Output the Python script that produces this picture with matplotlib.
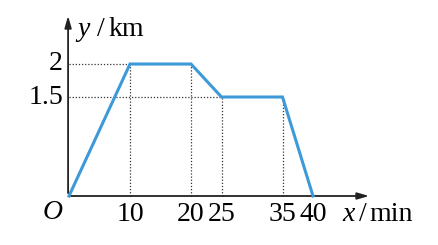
import matplotlib
matplotlib.use("Agg")
import matplotlib.pyplot as plt

# data
x_vals = [0, 10, 20, 25, 35, 40]
y_vals = [0, 2, 2, 1.5, 1.5, 0]
x_ticks = [10, 20, 25, 35, 40]
x_tick_labels = ["10", "20", "25", "35", "40"]
y_ticks = [2, 1.5]
y_tick_labels = ["2", "1.5"]

W, H = 438, 245
fig = plt.figure(figsize=(W / 100, H / 100), dpi=100)
ax = fig.add_axes([0, 0, 1, 1])
ox, oy = 69, 196
sx, sy = 6.1, 66.0
ax.set_xlim(-ox / sx, (W - ox) / sx)
ax.set_ylim(-(H - oy) / sy, oy / sy)
ax.axis("off")

serif = "Liberation Serif"
fs = 20
col_line = "#3d9ad8"

def px(p):
    return (p - ox) / sx

def py(p):
    return (oy - p) / sy

# axes arrows
ax.annotate("", xy=(px(372), 0), xytext=(-0.2, 0),
            arrowprops=dict(arrowstyle="-|>,head_length=0.7,head_width=0.2", color="#222222", lw=1.3))
ax.annotate("", xy=(-0.15, py(13)), xytext=(-0.15, 0),
            arrowprops=dict(arrowstyle="-|>,head_length=0.7,head_width=0.2", color="#222222", lw=1.3))

# dotted guide lines
for xv, yv in zip(x_vals[1:-1], y_vals[1:-1]):
    ax.plot([xv, xv], [0, yv], color="#333333", lw=0.9, ls=(0, (1, 1.5)))
for yv, xv in [(2, 20), (1.5, 25)]:
    ax.plot([0, xv], [yv, yv], color="#333333", lw=0.9, ls=(0, (1, 1.5)))

# main polyline
ax.plot(x_vals, y_vals, color=col_line, lw=2.2, solid_joinstyle="miter", zorder=5)

# tick labels
for xt, lab in zip(x_ticks, x_tick_labels):
    ax.text(xt, py(214), lab, ha="center", va="center", fontsize=fs, family=serif)
for yt, lab in zip(y_ticks, y_tick_labels):
    ax.text(px(63), yt, lab, ha="right", va="center", fontsize=fs, family=serif)
ax.text(px(53), py(212), "O", ha="center", va="center", fontsize=fs, family=serif, style="italic")
ax.text(px(342), py(214), "x", ha="left", va="center", fontsize=fs, family=serif, style="italic")
ax.text(px(359), py(214), "/", ha="left", va="center", fontsize=fs, family=serif)
ax.text(px(369), py(214), "min", ha="left", va="center", fontsize=fs, family=serif)
ax.text(px(77), py(29), "y", ha="left", va="center", fontsize=fs, family=serif, style="italic")
ax.text(px(97), py(29), "/", ha="left", va="center", fontsize=fs, family=serif)
ax.text(px(108), py(29), "km", ha="left", va="center", fontsize=fs, family=serif)

fig.savefig("out.png", dpi=100)
